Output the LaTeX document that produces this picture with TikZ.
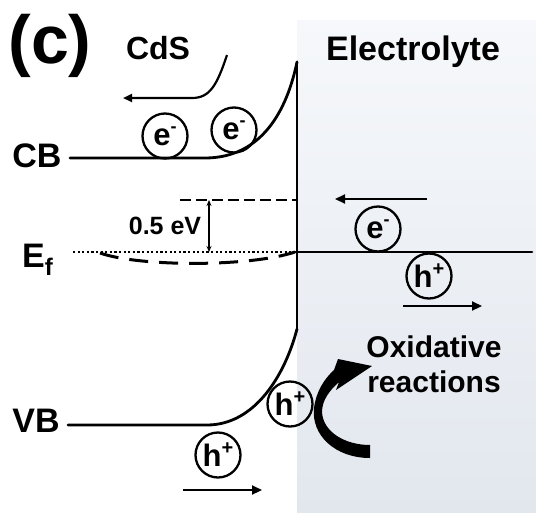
\documentclass[tikz,border=0pt]{standalone}
\usepackage{fontspec}
\setmainfont{Liberation Sans}
\usetikzlibrary{arrows.meta}
\definecolor{shadetop}{HTML}{F6F8FB}
\definecolor{shadebot}{HTML}{E2E7EE}
\tikzset{
  band/.style={line width=2.8pt, line cap=round},
  lbl/.style={font=\bfseries\fontsize{34}{40}\selectfont, inner sep=0pt},
  carrier/.style={circle, draw, line width=2.3pt, minimum size=45pt, inner sep=0pt,
    font=\bfseries\fontsize{31}{32}\selectfont},
  move/.style={line width=2.2pt, -{Triangle[length=10pt,width=9pt]}},
}
\newcommand{\elec}{e\raisebox{0.42em}{\fontsize{18}{18}\selectfont -}}
\newcommand{\hole}{h\raisebox{0.38em}{\fontsize{20}{20}\selectfont +}}
\begin{document}
\begin{tikzpicture}[x=1pt,y=-1pt]
\useasboundingbox (0,0) rectangle (536,512);
% electrolyte region
\shade[top color=shadetop, bottom color=shadebot] (297,20) rectangle (536,512);
% labels
\node[font=\bfseries\fontsize{68}{72}\selectfont, inner sep=0pt] (panel) at (50,46) {(c)};
\node[lbl, font=\bfseries\fontsize{32}{36}\selectfont] (cds) at (158,48) {CdS};
\node[lbl, anchor=base] (elyte) at (413,60) {Electrolyte};
\node[lbl] (cb) at (37,156) {CB};
\node[lbl] (vb) at (36,421) {VB};
\node[lbl, anchor=base west] (ef) at (22,267) {E\raisebox{-8pt}{\fontsize{24}{24}\selectfont f}};
\node[font=\bfseries\fontsize{25}{28}\selectfont, inner sep=0pt] (ev) at (165,226) {0.5 eV};
\node[font=\bfseries\fontsize{30}{35}\selectfont, align=center, inner sep=0pt] (ox) at (434,364) {Oxidative\\reactions};
% band edges
\coordinate (cbL) at (70,158);
\coordinate (cbK) at (205,158);
\coordinate (top) at (297,62);
\coordinate (bot) at (297,329);
\coordinate (vbL) at (68,425);
\coordinate (vbK) at (207,425);
\draw[band] (cbL) -- (cbK) .. controls (262,158) and (287,110) .. (top);
\draw[band] (top) -- (bot);
\draw[band] (vbL) -- (vbK) .. controls (255,425) and (285,375) .. (bot);
% Fermi levels
\coordinate (efL) at (73,252);
\coordinate (efM) at (297,252);
\coordinate (efR) at (532,252);
\draw[line width=2.2pt, dash pattern=on 2.2pt off 2.4pt] (efL) -- (efM);
\draw[band] (efM) -- (efR);
\draw[line width=3pt, dash pattern=on 19pt off 11pt] (100,253) .. controls (140,267) and (250,267) .. (295,252);
\coordinate (dL) at (180,200);
\coordinate (dR) at (297,200);
\draw[line width=2.6pt, dash pattern=on 11pt off 5pt] (dL) -- (dR);
\coordinate (ua) at (209,200);
\coordinate (la) at (209,252);
\draw[line width=1.4pt, {Stealth[length=6pt,width=5pt]}-{Stealth[length=6pt,width=5pt]}] (ua) -- (la);
% carriers
\node[carrier] (e1) at (165,136) {\elec};
\node[carrier] (e2) at (234,130) {\elec};
\node[carrier] (e3) at (378,229) {\elec};
\node[carrier] (h1) at (429,276) {\hole};
\node[carrier] (h2) at (290,404) {\hole};
\node[carrier] (h3) at (218,455) {\hole};
% motion arrows
\coordinate (a1s) at (227,55);
\coordinate (a1e) at (123,98);
\draw[line width=2.2pt, -{Triangle[length=9pt,width=8pt]}] (a1s) .. controls (217,85) and (210,98) .. (192,98) -- (a1e);
\coordinate (a2s) at (427,199);
\coordinate (a2e) at (335,199);
\draw[move] (a2s) -- (a2e);
\coordinate (a3s) at (403,306);
\coordinate (a3e) at (482,306);
\draw[move] (a3s) -- (a3e);
\coordinate (a4s) at (183,490);
\coordinate (a4e) at (262,490);
\draw[move] (a4s) -- (a4e);
% curved reaction arrow
\fill (370,458) .. controls (335,458) and (311,435) .. (314,408)
  .. controls (316,392) and (324,379) .. (334,370)
  -- (338,359) -- (372,366) -- (336,390) -- (339,382)
  .. controls (330,390) and (322,400) .. (322,412)
  .. controls (323,432) and (345,445) .. (370,445) -- cycle;
\end{tikzpicture}
\end{document}
